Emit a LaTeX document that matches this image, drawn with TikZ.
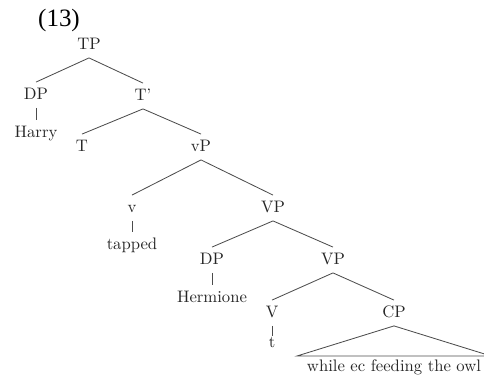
\documentclass[tikz,border=0pt]{standalone}
\usepackage{fontspec}
\newfontfamily\exfont{Liberation Serif}

\begin{document}
\begin{tikzpicture}[x=0.6pt,y=-0.6pt,line width=0.5pt,
    cat/.style={inner sep=3pt,text height=7pt,text depth=2pt,text=black!85},
    branch/.style={draw=black!70}]

            \useasboundingbox (0,0) rectangle (484,375);

            \node[font=\exfont\fontsize{15}{18}\selectfont] (num) at (59,20) {(13)};

            \node[cat] (tp) at (89,45) {TP};

            \node[cat] (dp) at (36,95) {DP};
            \node[cat] (tb) at (143,96) {T'};
            \node[cat] (harry) at (36,133) {Harry};

            \node[cat] (t) at (82,147) {T};
            \node[cat] (vp) at (201,147) {vP};

            \node[cat] (v) at (132,208) {v};
            \node[cat] (VP) at (273,208) {VP};
            \node[cat] (tapped) at (132,245) {tapped};

            \node[cat] (dp2) at (212,260) {DP};
            \node[cat] (VP2) at (333,260) {VP};
            \node[cat] (herm) at (212,298) {Hermione};

            \node[cat] (V) at (272,313) {V};
            \node[cat] (cp) at (394,313) {CP};
            \node[cat, text height=4pt] (trace) at (272,346) {t};

            \coordinate (cpl) at (297,356);
            \coordinate (cpr) at (491,356);
            \node[cat] (owl) at (394,367) {while ec feeding the owl};

            \path[branch]
                (tp.south) edge (dp.north)
                (tp.south) edge (tb.north)
                (dp.south) edge (harry.north)

                (tb.south) edge (t.north)
                (tb.south) edge (vp.north)

                (vp.south) edge (v.north)
                (vp.south) edge (VP.north)
                (v.south) edge (tapped.north)

                (VP.south) edge (dp2.north)
                (VP.south) edge (VP2.north)
                (dp2.south) edge (herm.north)

                (VP2.south) edge (V.north)
                (VP2.south) edge (cp.north)
                (V.south) edge (trace.north)
                ;
            \draw[branch] (cp.south) -- (cpl) -- (cpr) -- cycle;
        \end{tikzpicture}
\end{document}
